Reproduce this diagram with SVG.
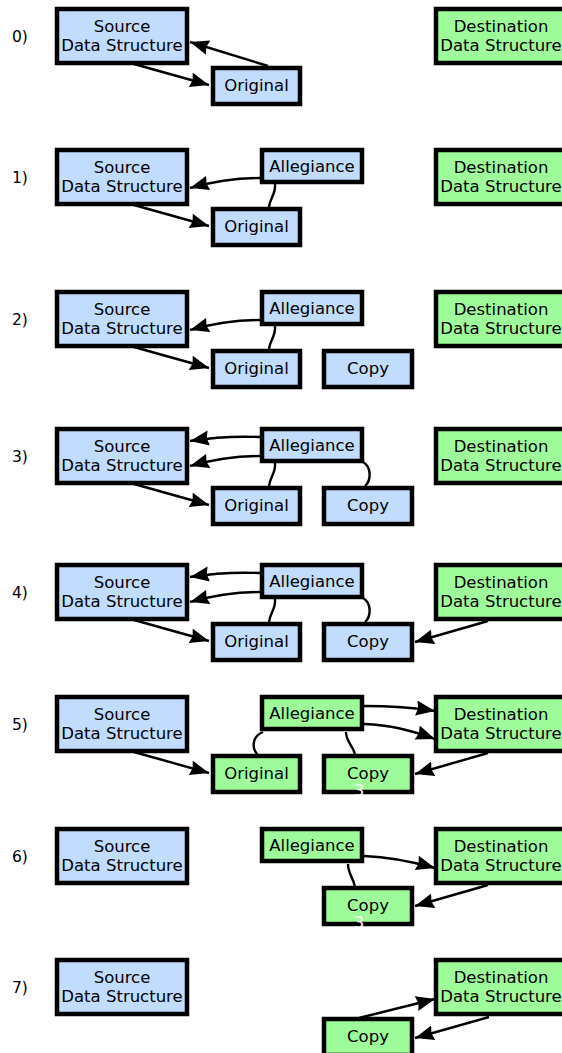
<svg xmlns="http://www.w3.org/2000/svg" width="562" height="1053" viewBox="0 0 562 1053">
  <style>
    .box { stroke: #000; stroke-width: 4.5; }
    .src { fill: #c2dcfe; }
    .dst { fill: #9efb9a; }
    .lbl { font-family: "DejaVu Sans", sans-serif; font-size: 16.5px; fill: #000; text-anchor: middle; }
    .step { font-family: "DejaVu Sans", sans-serif; font-size: 15.5px; fill: #000; }
    .edge { fill: none; stroke: #000; stroke-width: 2.4; }
    .arr { marker-end: url(#head); }
    .mark { font-family: "DejaVu Sans", sans-serif; font-size: 16px; fill: #fff; text-anchor: middle; }
  </style>
  <defs>
    <marker id="head" markerUnits="userSpaceOnUse" markerWidth="22" markerHeight="18" refX="19" refY="7.5" orient="auto">
      <path d="M0,0 L19,7.5 L0,15 L2,7.5 z" fill="#000"/>
    </marker>
  </defs>
  <rect width="562" height="1053" fill="#fff"/>

  <!-- step 0 -->
  <g id="step0" transform="translate(0,7)">
    <text class="step" x="12" y="35">0)</text>
    <g id="s0-source"><rect class="box src" x="57" y="2" width="130" height="54"/><text class="lbl" x="122" y="25">Source</text><text class="lbl" x="122" y="44">Data Structure</text></g>
    <g id="s0-original"><rect class="box src" x="213" y="61" width="87" height="36"/><text class="lbl" x="256.5" y="84">Original</text></g>
    <g id="s0-destination"><rect class="box dst" x="436" y="2" width="130" height="54"/><text class="lbl" x="501" y="25">Destination</text><text class="lbl" x="501" y="44">Data Structure</text></g>
    <g id="s0-edges">
      <path class="edge arr" d="M134,57 L209,78"/>
      <path class="edge arr" d="M268,59 L190,35"/>
    </g>
  </g>

  <!-- step 1 -->
  <g id="step1" transform="translate(0,148)">
    <text class="step" x="12" y="35">1)</text>
    <g id="s1-source"><rect class="box src" x="57" y="2" width="130" height="54"/><text class="lbl" x="122" y="25">Source</text><text class="lbl" x="122" y="44">Data Structure</text></g>
    <g id="s1-allegiance"><rect class="box src" x="262" y="2" width="100" height="32"/><text class="lbl" x="312" y="23.5">Allegiance</text></g>
    <g id="s1-original"><rect class="box src" x="213" y="61" width="87" height="36"/><text class="lbl" x="256.5" y="84">Original</text></g>
    <g id="s1-destination"><rect class="box dst" x="436" y="2" width="130" height="54"/><text class="lbl" x="501" y="25">Destination</text><text class="lbl" x="501" y="44">Data Structure</text></g>
    <g id="s1-edges">
      <path class="edge arr" d="M134,57 L209,78"/>
      <path class="edge arr" d="M260,30 C236,30 215,33 190,40"/>
      <path class="edge" d="M275,36 C276,46 270,50 269,59"/>
    </g>
  </g>

  <!-- step 2 -->
  <g id="step2" transform="translate(0,290)">
    <text class="step" x="12" y="35">2)</text>
    <g id="s2-source"><rect class="box src" x="57" y="2" width="130" height="54"/><text class="lbl" x="122" y="25">Source</text><text class="lbl" x="122" y="44">Data Structure</text></g>
    <g id="s2-allegiance"><rect class="box src" x="262" y="2" width="100" height="32"/><text class="lbl" x="312" y="23.5">Allegiance</text></g>
    <g id="s2-original"><rect class="box src" x="213" y="61" width="87" height="36"/><text class="lbl" x="256.5" y="84">Original</text></g>
    <g id="s2-copy"><rect class="box src" x="324" y="61" width="88" height="36"/><text class="lbl" x="368" y="84">Copy</text></g>
    <g id="s2-destination"><rect class="box dst" x="436" y="2" width="130" height="54"/><text class="lbl" x="501" y="25">Destination</text><text class="lbl" x="501" y="44">Data Structure</text></g>
    <g id="s2-edges">
      <path class="edge arr" d="M134,57 L209,78"/>
      <path class="edge arr" d="M260,30 C236,30 215,33 190,40"/>
      <path class="edge" d="M275,36 C276,46 270,50 269,59"/>
    </g>
  </g>

  <!-- step 3 -->
  <g id="step3" transform="translate(0,427)">
    <text class="step" x="12" y="35">3)</text>
    <g id="s3-source"><rect class="box src" x="57" y="2" width="130" height="54"/><text class="lbl" x="122" y="25">Source</text><text class="lbl" x="122" y="44">Data Structure</text></g>
    <g id="s3-allegiance"><rect class="box src" x="262" y="2" width="100" height="32"/><text class="lbl" x="312" y="23.5">Allegiance</text></g>
    <g id="s3-original"><rect class="box src" x="213" y="61" width="87" height="36"/><text class="lbl" x="256.5" y="84">Original</text></g>
    <g id="s3-copy"><rect class="box src" x="324" y="61" width="88" height="36"/><text class="lbl" x="368" y="84">Copy</text></g>
    <g id="s3-destination"><rect class="box dst" x="436" y="2" width="130" height="54"/><text class="lbl" x="501" y="25">Destination</text><text class="lbl" x="501" y="44">Data Structure</text></g>
    <g id="s3-edges">
      <path class="edge arr" d="M134,57 L209,78"/>
      <path class="edge arr" d="M260,10 C236,9 215,10 190,14"/>
      <path class="edge arr" d="M260,29 C236,29 215,32 190,39"/>
      <path class="edge" d="M275,36 C276,46 270,50 269,59"/>
      <path class="edge" d="M363,35 C372,40 371,54 365,59"/>
    </g>
  </g>

  <!-- step 4 -->
  <g id="step4" transform="translate(0,563)">
    <text class="step" x="12" y="35">4)</text>
    <g id="s4-source"><rect class="box src" x="57" y="2" width="130" height="54"/><text class="lbl" x="122" y="25">Source</text><text class="lbl" x="122" y="44">Data Structure</text></g>
    <g id="s4-allegiance"><rect class="box src" x="262" y="2" width="100" height="32"/><text class="lbl" x="312" y="23.5">Allegiance</text></g>
    <g id="s4-original"><rect class="box src" x="213" y="61" width="87" height="36"/><text class="lbl" x="256.5" y="84">Original</text></g>
    <g id="s4-copy"><rect class="box src" x="324" y="61" width="88" height="36"/><text class="lbl" x="368" y="84">Copy</text></g>
    <g id="s4-destination"><rect class="box dst" x="436" y="2" width="130" height="54"/><text class="lbl" x="501" y="25">Destination</text><text class="lbl" x="501" y="44">Data Structure</text></g>
    <g id="s4-edges">
      <path class="edge arr" d="M134,57 L209,78"/>
      <path class="edge arr" d="M260,10 C236,9 215,10 190,14"/>
      <path class="edge arr" d="M260,29 C236,29 215,32 190,39"/>
      <path class="edge" d="M275,36 C276,46 270,50 269,59"/>
      <path class="edge" d="M363,35 C372,40 371,54 365,59"/>
      <path class="edge arr" d="M488,58 L415,79"/>
    </g>
  </g>

  <!-- step 5 -->
  <g id="step5" transform="translate(0,695)">
    <text class="step" x="12" y="35">5)</text>
    <g id="s5-source"><rect class="box src" x="57" y="2" width="130" height="54"/><text class="lbl" x="122" y="25">Source</text><text class="lbl" x="122" y="44">Data Structure</text></g>
    <g id="s5-allegiance"><rect class="box dst" x="262" y="2" width="100" height="32"/><text class="lbl" x="312" y="23.5">Allegiance</text></g>
    <g id="s5-original"><rect class="box dst" x="213" y="61" width="87" height="36"/><text class="lbl" x="256.5" y="84">Original</text></g>
    <g id="s5-copy"><rect class="box dst" x="324" y="61" width="88" height="36"/><text class="lbl" x="368" y="84">Copy</text><text class="mark" x="359" y="101">3</text></g>
    <g id="s5-destination"><rect class="box dst" x="436" y="2" width="130" height="54"/><text class="lbl" x="501" y="25">Destination</text><text class="lbl" x="501" y="44">Data Structure</text></g>
    <g id="s5-edges">
      <path class="edge arr" d="M134,57 L209,78"/>
      <path class="edge arr" d="M364,11 C390,11 410,12 435,16"/>
      <path class="edge arr" d="M364,29 C390,30 410,35 435,44"/>
      <path class="edge" d="M263,37 C251,42 252,54 258,60"/>
      <path class="edge" d="M346,37 C346,47 354,52 355,60"/>
      <path class="edge arr" d="M488,58 L415,79"/>
    </g>
  </g>

  <!-- step 6 -->
  <g id="step6" transform="translate(0,827)">
    <text class="step" x="12" y="35">6)</text>
    <g id="s6-source"><rect class="box src" x="57" y="2" width="130" height="54"/><text class="lbl" x="122" y="25">Source</text><text class="lbl" x="122" y="44">Data Structure</text></g>
    <g id="s6-allegiance"><rect class="box dst" x="262" y="2" width="100" height="32"/><text class="lbl" x="312" y="23.5">Allegiance</text></g>
    <g id="s6-copy"><rect class="box dst" x="324" y="61" width="88" height="36"/><text class="lbl" x="368" y="84">Copy</text><text class="mark" x="359" y="101">3</text></g>
    <g id="s6-destination"><rect class="box dst" x="436" y="2" width="130" height="54"/><text class="lbl" x="501" y="25">Destination</text><text class="lbl" x="501" y="44">Data Structure</text></g>
    <g id="s6-edges">
      <path class="edge arr" d="M364,29 C390,30 410,34 435,41"/>
      <path class="edge" d="M348,37 C348,47 354,52 355,60"/>
      <path class="edge arr" d="M488,58 L415,79"/>
    </g>
  </g>

  <!-- step 7 -->
  <g id="step7" transform="translate(0,958)">
    <text class="step" x="12" y="35">7)</text>
    <g id="s7-source"><rect class="box src" x="57" y="2" width="130" height="54"/><text class="lbl" x="122" y="25">Source</text><text class="lbl" x="122" y="44">Data Structure</text></g>
    <g id="s7-copy"><rect class="box dst" x="324" y="61" width="88" height="36"/><text class="lbl" x="368" y="84">Copy</text></g>
    <g id="s7-destination"><rect class="box dst" x="436" y="2" width="130" height="54"/><text class="lbl" x="501" y="25">Destination</text><text class="lbl" x="501" y="44">Data Structure</text></g>
    <g id="s7-edges">
      <path class="edge arr" d="M359,60 L435,41"/>
      <path class="edge arr" d="M489,59 L415,80"/>
    </g>
  </g>
</svg>
